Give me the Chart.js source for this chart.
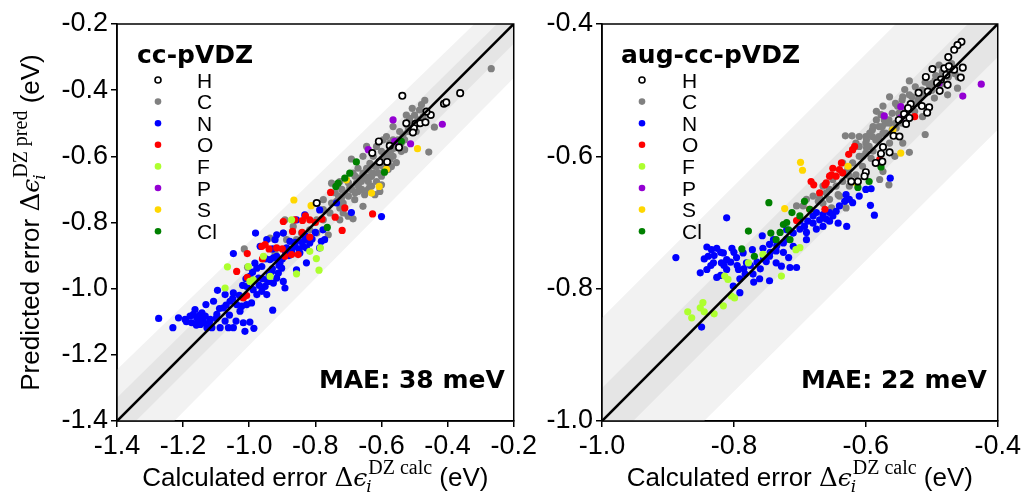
<!DOCTYPE html>
<html>
<head>
<meta charset="utf-8">
<script src="https://cdn.jsdelivr.net/npm/chart.js@4.4.1/dist/chart.umd.min.js"></script>
<style>
  body { margin: 0; background: #fff; width: 1024px; height: 494px; overflow: hidden; position: relative; }
  #chart-vdz { position: absolute; left: 0; top: 0; }
  #chart-aug { position: absolute; left: 540px; top: 0; }
</style>
</head>
<body>
<canvas id="chart-vdz" width="540" height="494" style="width:540px;height:494px"></canvas>
<canvas id="chart-aug" width="484" height="494" style="width:484px;height:494px"></canvas>
<script>
const ELEMENTS = ['H', 'C', 'N', 'O', 'F', 'P', 'S', 'Cl'];
const COLORS = { H: '#ffffff', C: '#808080', N: '#0000ff', O: '#ff0000', F: '#adff2f', P: '#9400d3', S: '#ffd700', Cl: '#008000' };

// ---- cc-pVDZ panel ----
const vdzRange = [-1.4, -0.2];
const vdzTicks = [-1.4, -1.2, -1.0, -0.8, -0.6, -0.4, -0.2];
const vdzBandX = [-1.4, -0.2];
const vdzLightHi = [-1.244, -0.085];
const vdzLightLo = [-1.575, -0.363];
const vdzDarkHi = [-1.33, -0.15];
const vdzDarkLo = [-1.457, -0.26];

const vdzH = [[-0.537,-0.417],[-0.362,-0.409],[-0.411,-0.441],[-0.404,-0.437],[-0.451,-0.475],[-0.464,-0.465],[-0.525,-0.500],[-0.497,-0.502],[-0.483,-0.500],[-0.467,-0.497],[-0.502,-0.515],[-0.505,-0.528],[-0.608,-0.555],[-0.575,-0.568],[-0.547,-0.573],[-0.628,-0.590],[-0.606,-0.617],[-0.583,-0.617],[-0.796,-0.741]];
const vdzC = [[-0.268,-0.335],[-0.469,-0.431],[-0.479,-0.444],[-0.507,-0.455],[-0.485,-0.460],[-0.440,-0.512],[-0.457,-0.587],[-0.530,-0.580],[-0.565,-0.510],
  [-0.525,-0.475],[-0.515,-0.485],[-0.500,-0.475],[-0.490,-0.490],[-0.474,-0.480],[-0.510,-0.510],[-0.495,-0.525],[-0.520,-0.525],[-0.535,-0.535],
  [-0.585,-0.540],[-0.595,-0.550],[-0.575,-0.560],[-0.560,-0.575],[-0.565,-0.600],[-0.555,-0.619],[-0.570,-0.631],[-0.585,-0.600],[-0.600,-0.585],
  [-0.615,-0.570],[-0.625,-0.600],[-0.635,-0.621],[-0.645,-0.636],[-0.656,-0.651],[-0.666,-0.666],[-0.676,-0.681],[-0.686,-0.651],[-0.691,-0.608],
  [-0.645,-0.570],[-0.656,-0.600],[-0.625,-0.651],[-0.615,-0.676],[-0.600,-0.686],[-0.635,-0.691],[-0.651,-0.716],[-0.671,-0.706],[-0.696,-0.696],
  [-0.711,-0.711],[-0.721,-0.726],[-0.736,-0.736],[-0.751,-0.681],[-0.726,-0.676],[-0.706,-0.671],[-0.681,-0.731],[-0.656,-0.751],[-0.686,-0.789],
  [-0.701,-0.781],[-0.726,-0.792],[-0.756,-0.771],[-0.776,-0.792],[-0.796,-0.792],[-0.817,-0.822],[-0.776,-0.731],[-0.615,-0.631],[-0.595,-0.631],
  [-0.575,-0.610],[-0.635,-0.661],[-0.661,-0.676],[-0.640,-0.676],[-0.620,-0.716],[-0.605,-0.706],[-0.545,-0.525],[-0.565,-0.550],[-0.555,-0.560],
  [-0.540,-0.585],[-0.671,-0.636],[-0.716,-0.741],[-0.761,-0.837],[-0.842,-0.832],[-0.857,-0.852],[-0.937,-0.847],[-0.897,-0.832],[-0.892,-0.792],
  [-1.015,-0.880],[-1.005,-0.935],[-0.867,-0.812],[-0.887,-0.852],[-0.922,-0.892],[-0.796,-0.832],[-0.776,-0.761],[-0.716,-0.771],[-0.751,-0.741],[-0.726,-0.756],
  [-0.700,-0.680],[-0.690,-0.700],[-0.680,-0.660],[-0.670,-0.690],[-0.660,-0.670],[-0.650,-0.660],[-0.640,-0.640],[-0.630,-0.660],[-0.620,-0.630],
  [-0.610,-0.650],[-0.600,-0.610],[-0.590,-0.600],[-0.580,-0.590],[-0.570,-0.580],[-0.550,-0.550],[-0.540,-0.560],[-0.530,-0.550],[-0.520,-0.510],
  [-0.510,-0.500],[-0.720,-0.700],[-0.730,-0.720],[-0.740,-0.710],[-0.700,-0.720],[-0.680,-0.710],[-0.660,-0.700],[-0.640,-0.700],[-0.630,-0.690],
  [-0.600,-0.660],[-0.580,-0.640]];
const vdzN = [[-1.274,-1.090],[-1.231,-1.118],[-1.214,-1.088],[-1.194,-1.093],[-1.179,-1.083],[-1.169,-1.078],[-1.159,-1.088],[-1.154,-1.098],
  [-1.148,-1.108],[-1.138,-1.103],[-1.143,-1.073],[-1.164,-1.063],[-1.128,-1.118],[-1.118,-1.093],[-1.098,-1.078],[-1.078,-1.058],[-1.174,-1.103],
  [-1.133,-1.083],[-1.131,-1.048],[-1.113,-1.118],[-1.088,-1.118],[-1.073,-1.098],[-1.063,-1.118],[-1.048,-1.118],[-1.040,-1.098],[-1.018,-1.103],
  [-1.013,-1.129],[-0.998,-1.101],[-0.986,-1.120],[-0.929,-1.065],[-1.096,-1.005],[-1.073,-1.018],[-1.048,-1.013],[-1.108,-1.038],[-1.058,-1.038],
  [-1.038,-1.048],[-1.023,-1.053],[-1.008,-1.048],[-0.993,-1.043],[-1.028,-1.068],[-1.008,-0.993],[-0.988,-1.003],[-0.977,-1.018],[-0.962,-1.008],
  [-0.947,-1.018],[-0.952,-0.993],[-0.942,-0.978],[-0.927,-0.983],[-0.917,-0.968],[-0.897,-0.978],[-0.892,-0.998],[-0.912,-0.953],[-0.932,-0.948],
  [-0.947,-0.973],[-0.972,-0.968],[-0.998,-0.963],[-0.983,-0.923],[-0.977,-0.938],[-0.962,-0.933],[-1.048,-0.894],[-0.981,-0.832],[-0.937,-0.912],
  [-0.927,-0.907],[-0.917,-0.902],[-0.907,-0.922],[-0.902,-0.938],[-0.922,-0.852],[-0.917,-0.837],[-0.887,-0.877],[-0.872,-0.887],[-0.862,-0.872],
  [-0.857,-0.943],[-0.847,-0.892],[-0.837,-0.872],[-0.827,-0.877],[-0.817,-0.862],[-0.832,-0.852],[-0.827,-0.922],[-0.832,-0.777],[-0.857,-0.792],
  [-0.787,-0.877],[-0.782,-0.857],[-0.772,-0.852],[-0.777,-0.822],[-0.787,-0.762],[-0.736,-0.741],[-0.691,-0.770],[-0.600,-0.782],[-0.967,-0.872],
  [-0.947,-0.852],[-0.897,-0.832],[-0.877,-0.857],
  [-1.160,-1.110],[-1.150,-1.080],[-1.140,-1.090],[-1.120,-1.100],[-1.100,-1.090],[-1.090,-1.060],[-1.070,-1.050],[-1.050,-1.030],[-1.030,-1.020],
  [-1.020,-0.990],[-0.970,-0.990],[-0.960,-0.970],[-0.940,-0.960],[-0.930,-0.940],[-0.910,-0.930],[-0.900,-0.910],[-0.890,-0.890],[-0.880,-0.900],
  [-0.860,-0.860],[-0.850,-0.880],[-0.840,-0.860],[-0.830,-0.840],[-0.810,-0.850],[-0.800,-0.830],[-0.930,-0.880],[-0.950,-0.910],[-0.990,-0.950],
  [-1.010,-0.970],[-1.060,-1.080],[-1.190,-1.100]];
const vdzO = [[-1.038,-0.948],[-1.006,-0.894],[-1.006,-0.966],[-0.962,-0.872],[-0.952,-0.867],[-0.917,-0.877],[-0.892,-0.902],[-0.872,-0.897],
  [-0.852,-0.897],[-0.862,-0.792],[-0.839,-0.794],[-0.817,-0.792],[-0.897,-0.797],[-0.754,-0.709],[-0.740,-0.784],[-0.719,-0.824],[-0.711,-0.756],
  [-0.627,-0.774],[-1.018,-1.028],[-1.008,-1.021],[-0.869,-0.827],[-0.817,-0.844],
  [-0.940,-0.880],[-0.900,-0.880],[-0.840,-0.830],[-0.800,-0.800],[-0.780,-0.790],[-0.960,-0.910],[-0.830,-0.780]];
const vdzF = [[-1.066,-0.934],[-1.073,-0.998],[-0.998,-0.978],[-0.988,-0.973],[-1.003,-0.933],[-0.937,-0.963],[-0.857,-0.955],[-0.797,-0.909],
  [-0.789,-0.944],[-0.785,-0.877],[-0.872,-0.792],[-0.957,-0.902],[-0.817,-0.887]];
const vdzP = [[-0.565,-0.490],[-0.416,-0.503],[-0.512,-0.562],[-0.640,-0.580],[-0.560,-0.555]];
const vdzS = [[-0.865,-0.732],[-0.813,-0.749],[-0.491,-0.577],[-0.585,-0.639],[-0.630,-0.711],[-0.607,-0.691],[-0.706,-0.671]];
const vdzCl = [[-0.676,-0.617],[-0.591,-0.648],[-0.540,-0.555],[-0.738,-0.691],[-0.731,-0.681],[-0.711,-0.666],[-0.764,-0.815],[-0.696,-0.651]];

// ---- aug-cc-pVDZ panel ----
const augRange = [-1.0, -0.4];
const augTicks = [-1.0, -0.8, -0.6, -0.4];
const augBandX = [-1.0, -0.4];
const augLightHi = [-0.844, -0.246];
const augLightLo = [-1.153, -0.56];
const augDarkHi = [-0.95, -0.355];
const augDarkLo = [-1.047, -0.45];

const augH = [[-0.455,-0.427],[-0.461,-0.432],[-0.466,-0.439],[-0.475,-0.450],[-0.499,-0.468],[-0.481,-0.467],[-0.474,-0.464],[-0.466,-0.469],
  [-0.453,-0.466],[-0.478,-0.477],[-0.486,-0.484],[-0.509,-0.480],[-0.456,-0.481],[-0.492,-0.489],[-0.476,-0.492],[-0.520,-0.504],[-0.506,-0.502],
  [-0.488,-0.501],[-0.532,-0.521],[-0.515,-0.524],[-0.504,-0.526],[-0.536,-0.527],[-0.507,-0.534],[-0.542,-0.536],[-0.534,-0.542],[-0.550,-0.545],
  [-0.539,-0.551],[-0.558,-0.569],[-0.549,-0.570],[-0.574,-0.586],[-0.564,-0.594],[-0.577,-0.596],[-0.585,-0.610],[-0.575,-0.608],[-0.600,-0.624],
  [-0.602,-0.630],[-0.612,-0.638],[-0.622,-0.638]];
const augC = [[-0.489,-0.462],[-0.510,-0.488],[-0.534,-0.486],[-0.461,-0.497],[-0.476,-0.507],[-0.496,-0.512],[-0.564,-0.510],[-0.574,-0.524],
  [-0.544,-0.510],[-0.534,-0.507],[-0.521,-0.515],[-0.510,-0.567],[-0.554,-0.557],[-0.564,-0.550],[-0.577,-0.537],[-0.584,-0.545],[-0.589,-0.555],
  [-0.594,-0.565],[-0.599,-0.575],[-0.610,-0.570],[-0.621,-0.569],[-0.631,-0.569],[-0.610,-0.585],[-0.599,-0.587],[-0.589,-0.592],[-0.605,-0.600],
  [-0.592,-0.603],[-0.584,-0.575],[-0.574,-0.565],[-0.544,-0.580],[-0.534,-0.594],[-0.556,-0.600],[-0.564,-0.580],[-0.579,-0.635],[-0.565,-0.643],
  [-0.574,-0.623],[-0.615,-0.628],[-0.625,-0.645],[-0.635,-0.638],[-0.642,-0.658],[-0.655,-0.665],[-0.665,-0.671],[-0.672,-0.668],[-0.695,-0.675],
  [-0.630,-0.678],[-0.652,-0.678],[-0.635,-0.610],[-0.627,-0.618],[-0.519,-0.510],[-0.541,-0.499],[-0.552,-0.524],[-0.526,-0.532],[-0.514,-0.540],
  [-0.584,-0.532],[-0.572,-0.545],[-0.504,-0.492],[-0.494,-0.478],[-0.484,-0.472],
  [-0.600,-0.570],[-0.590,-0.560],[-0.580,-0.555],[-0.570,-0.550],[-0.560,-0.535],[-0.555,-0.520],[-0.545,-0.515],[-0.530,-0.510],[-0.525,-0.495],
  [-0.515,-0.500],[-0.500,-0.490],[-0.490,-0.480],[-0.480,-0.470],[-0.470,-0.460],[-0.465,-0.475],[-0.570,-0.565],[-0.555,-0.550],[-0.545,-0.550],
  [-0.585,-0.575],[-0.595,-0.585],[-0.610,-0.600],[-0.620,-0.610],[-0.605,-0.615],[-0.630,-0.625],[-0.645,-0.645],[-0.660,-0.655],[-0.640,-0.660],[-0.670,-0.662],
  [-0.620,-0.590],[-0.615,-0.580],[-0.600,-0.580],[-0.590,-0.570],[-0.580,-0.570],[-0.575,-0.555],[-0.565,-0.545],[-0.560,-0.560],[-0.550,-0.535],
  [-0.540,-0.530],[-0.530,-0.520],[-0.520,-0.520],[-0.510,-0.505],[-0.500,-0.500],[-0.495,-0.485],[-0.485,-0.490],[-0.475,-0.480],[-0.470,-0.470],
  [-0.460,-0.480],[-0.650,-0.635],[-0.655,-0.650],[-0.665,-0.645],[-0.680,-0.660],[-0.690,-0.665],[-0.705,-0.675],[-0.635,-0.625],[-0.625,-0.630],[-0.600,-0.595]];
const augN = [[-0.888,-0.753],[-0.851,-0.776],[-0.841,-0.737],[-0.834,-0.741],[-0.826,-0.739],[-0.839,-0.751],[-0.831,-0.761],[-0.819,-0.761],
  [-0.811,-0.756],[-0.816,-0.746],[-0.841,-0.771],[-0.826,-0.783],[-0.811,-0.771],[-0.803,-0.739],[-0.796,-0.753],[-0.786,-0.746],[-0.781,-0.761],
  [-0.793,-0.771],[-0.791,-0.785],[-0.801,-0.796],[-0.791,-0.806],[-0.811,-0.693],[-0.849,-0.858],[-0.772,-0.741],[-0.756,-0.739],[-0.746,-0.733],
  [-0.746,-0.751],[-0.736,-0.761],[-0.728,-0.766],[-0.717,-0.753],[-0.715,-0.768],[-0.705,-0.768],[-0.746,-0.788],[-0.761,-0.785],[-0.771,-0.778],
  [-0.783,-0.778],[-0.757,-0.720],[-0.740,-0.726],[-0.725,-0.731],[-0.710,-0.736],[-0.720,-0.711],[-0.710,-0.716],[-0.700,-0.698],[-0.693,-0.706],
  [-0.688,-0.698],[-0.690,-0.726],[-0.680,-0.701],[-0.670,-0.696],[-0.665,-0.706],[-0.675,-0.685],[-0.665,-0.688],[-0.655,-0.685],[-0.645,-0.683],
  [-0.655,-0.698],[-0.642,-0.701],[-0.629,-0.706],[-0.632,-0.668],[-0.620,-0.670],[-0.630,-0.658],[-0.592,-0.649],[-0.593,-0.674],[-0.587,-0.689],
  [-0.563,-0.633],[-0.736,-0.743],[-0.751,-0.759],
  [-0.830,-0.750],[-0.820,-0.745],[-0.815,-0.765],[-0.805,-0.760],[-0.800,-0.745],[-0.795,-0.765],[-0.785,-0.770],[-0.775,-0.765],[-0.765,-0.760],
  [-0.755,-0.755],[-0.745,-0.745],[-0.735,-0.735],[-0.725,-0.745],[-0.720,-0.725],[-0.700,-0.710],[-0.690,-0.715],[-0.680,-0.690],[-0.675,-0.710],
  [-0.660,-0.695],[-0.650,-0.690],[-0.640,-0.675],[-0.625,-0.665],[-0.610,-0.660],[-0.600,-0.650],[-0.770,-0.790],[-0.760,-0.770],[-0.845,-0.755],
  [-0.835,-0.765],[-0.820,-0.780]];
const augO = [[-0.683,-0.638],[-0.679,-0.643],[-0.670,-0.655],[-0.662,-0.643],[-0.652,-0.628],[-0.650,-0.618],[-0.645,-0.630],[-0.637,-0.610],
  [-0.626,-0.597],[-0.617,-0.585],[-0.705,-0.697],[-0.685,-0.680],[-0.662,-0.680],[-0.526,-0.540],[-0.579,-0.605],
  [-0.660,-0.640],[-0.655,-0.630],[-0.640,-0.620],[-0.635,-0.625],[-0.620,-0.590]];
const augF = [[-0.870,-0.835],[-0.864,-0.844],[-0.851,-0.829],[-0.847,-0.821],[-0.845,-0.835],[-0.830,-0.838],[-0.816,-0.826],[-0.804,-0.811],
  [-0.799,-0.814],[-0.814,-0.781],[-0.809,-0.786],[-0.778,-0.761],[-0.756,-0.748],[-0.728,-0.781],[-0.700,-0.738],[-0.706,-0.741]];
const augP = [[-0.425,-0.491],[-0.453,-0.509],[-0.572,-0.539],[-0.547,-0.525],[-0.489,-0.489],[-0.547,-0.542]];
const augS = [[-0.699,-0.609],[-0.696,-0.621],[-0.723,-0.679],[-0.547,-0.595],[-0.627,-0.615],[-0.615,-0.640],[-0.559,-0.560]];
const augCl = [[-0.747,-0.670],[-0.778,-0.713],[-0.744,-0.716],[-0.736,-0.726],[-0.769,-0.751],[-0.788,-0.740],[-0.712,-0.685],[-0.693,-0.668],
  [-0.725,-0.703],[-0.717,-0.711],[-0.595,-0.638],[-0.577,-0.616],[-0.612,-0.647],[-0.715,-0.726],
  [-0.730,-0.715],[-0.720,-0.700],[-0.700,-0.690],[-0.685,-0.680]];

const TICK_FONT = { family: 'Liberation Sans', size: 27 };
const LIGHT_BAND = '#f2f2f2';
const DARK_BAND = '#e5e5e5';
const DOT = 3.6;

function pts(arr) {
  return arr.map(([x, y]) => ({ x, y }));
}

function edge(xs, ys) {
  return xs.map((x, i) => ({ x, y: ys[i] }));
}

function drawMath(ctx, label, sup, cx, baseY) {
  const reg = '26px "Liberation Sans"';
  const greek = '26px "DejaVu Serif"';
  const ital = 'italic 25px "DejaVu Serif"';
  const small = '20px "Liberation Serif"';
  const smallIt = 'italic 17px "DejaVu Serif"';
  const tail = ' (eV)';

  const w = (t, f) => { ctx.font = f; return ctx.measureText(t).width; };
  const wLabel = w(label, reg);
  const wD = w('Δ', greek);
  const wE = w('ϵ', ital);
  const wSub = w('i', smallIt);
  const wSup = w(sup, small);
  const wTail = w(tail, reg);
  const total = wLabel + wD + wE + 1 + Math.max(wSub, wSup) + wTail;

  let x = cx - total / 2;
  ctx.textAlign = 'left';
  ctx.textBaseline = 'alphabetic';
  ctx.fillStyle = '#000';
  ctx.font = reg; ctx.fillText(label, x, baseY); x += wLabel;
  ctx.font = greek; ctx.fillText('Δ', x, baseY); x += wD;
  ctx.font = ital; ctx.fillText('ϵ', x, baseY); x += wE + 1;
  ctx.font = smallIt; ctx.fillText('i', x - 2, baseY + 6);
  ctx.font = small; ctx.fillText(sup, x, baseY - 12);
  x += Math.max(wSub, wSup);
  ctx.font = reg; ctx.fillText(tail, x, baseY);
}

function overlay(cfg) {
  return {
    id: 'overlay',
    afterDraw(chart) {
      const { ctx, chartArea: a } = chart;
      ctx.save();

      ctx.strokeStyle = '#000';
      ctx.lineWidth = 1.5;
      ctx.strokeRect(a.left, a.top, a.right - a.left, a.bottom - a.top);

      ctx.fillStyle = '#000';
      ctx.textAlign = 'left';
      ctx.textBaseline = 'alphabetic';
      ctx.font = 'bold 25px "DejaVu Sans"';
      ctx.fillText(cfg.title, a.left + cfg.titleDx, 63);

      ELEMENTS.forEach((el, i) => {
        const y = 80 + i * 21.6;
        ctx.beginPath();
        ctx.arc(a.left + cfg.markDx, y, el === 'H' ? 3 : 3.3, 0, Math.PI * 2);
        ctx.fillStyle = COLORS[el];
        ctx.fill();
        if (el === 'H') {
          ctx.lineWidth = 1.6;
          ctx.strokeStyle = '#000';
          ctx.stroke();
        }
        ctx.fillStyle = '#000';
        ctx.font = '21px "Liberation Sans"';
        ctx.fillText(el, a.left + 80, y + 7.5);
      });

      ctx.font = 'bold 25px "DejaVu Sans"';
      ctx.textAlign = 'right';
      ctx.fillText(cfg.mae, a.right - cfg.maeDx, 388);

      drawMath(ctx, 'Calculated error ', 'DZ calc', (a.left + a.right) / 2, 486);

      if (cfg.yTitle) {
        ctx.translate(39, (a.top + a.bottom) / 2);
        ctx.rotate(-Math.PI / 2);
        drawMath(ctx, 'Predicted error ', 'DZ pred', 0, 0);
      }
      ctx.restore();
    }
  };
}

function axis(range, ticks, fit) {
  return {
    type: 'linear',
    min: range[0],
    max: range[1],
    afterBuildTicks: s => { s.ticks = ticks.map(v => ({ value: v })); },
    afterFit: fit,
    ticks: {
      font: TICK_FONT,
      color: '#000',
      padding: 3,
      maxRotation: 0,
      autoSkip: false,
      callback: v => v.toFixed(1)
    },
    grid: { drawOnChartArea: false, drawTicks: true, tickLength: 6, color: '#000', lineWidth: 1.5 },
    border: { display: true, color: '#000', width: 1.5 }
  };
}

function renderPanel(id, p) {
  const ctx = document.getElementById(id).getContext('2d');
  const series = [
    ['H', p.H], ['Cl', p.Cl], ['S', p.S], ['P', p.P], ['F', p.F], ['O', p.O], ['N', p.N], ['C', p.C]
  ];

  const datasets = [{
    type: 'line',
    data: edge(p.range, p.range),
    borderColor: '#000',
    borderWidth: 2.6,
    pointRadius: 0,
    fill: false
  }];

  series.forEach(([el, arr]) => {
    datasets.push({
      type: 'scatter',
      label: el,
      data: pts(arr),
      pointRadius: el === 'H' ? 3.2 : DOT,
      pointBackgroundColor: COLORS[el],
      pointBorderColor: el === 'H' ? '#000' : COLORS[el],
      pointBorderWidth: el === 'H' ? 1.7 : 0
    });
  });

  datasets.push(
    { type: 'line', data: edge(p.bandX, p.darkHi), borderWidth: 0, pointRadius: 0, backgroundColor: DARK_BAND, fill: '+1' },
    { type: 'line', data: edge(p.bandX, p.darkLo), borderWidth: 0, pointRadius: 0, fill: false },
    { type: 'line', data: edge(p.bandX, p.lightHi), borderWidth: 0, pointRadius: 0, backgroundColor: LIGHT_BAND, fill: '+1' },
    { type: 'line', data: edge(p.bandX, p.lightLo), borderWidth: 0, pointRadius: 0, fill: false }
  );

  return new Chart(ctx, {
    type: 'scatter',
    data: { datasets },
    options: {
      responsive: false,
      animation: false,
      events: [],
      devicePixelRatio: 1,
      layout: { padding: { top: 24, right: p.padRight, left: 0, bottom: 0 } },
      plugins: { legend: { display: false }, tooltip: { enabled: false } },
      scales: {
        x: axis(p.range, p.ticks, s => { s.height = 73; }),
        y: axis(p.range, p.ticks, s => { s.width = p.yWidth; })
      }
    },
    plugins: [overlay(p.overlay)]
  });
}

renderPanel('chart-vdz', {
  range: vdzRange, ticks: vdzTicks, bandX: vdzBandX,
  lightHi: vdzLightHi, lightLo: vdzLightLo, darkHi: vdzDarkHi, darkLo: vdzDarkLo,
  H: vdzH, C: vdzC, N: vdzN, O: vdzO, F: vdzF, P: vdzP, S: vdzS, Cl: vdzCl,
  padRight: 26, yWidth: 117,
  overlay: { title: 'cc-pVDZ', titleDx: 20, markDx: 41, mae: 'MAE: 38 meV', maeDx: 9, yTitle: true }
});

renderPanel('chart-aug', {
  range: augRange, ticks: augTicks, bandX: augBandX,
  lightHi: augLightHi, lightLo: augLightLo, darkHi: augDarkHi, darkLo: augDarkLo,
  H: augH, C: augC, N: augN, O: augO, F: augF, P: augP, S: augS, Cl: augCl,
  padRight: 25, yWidth: 62,
  overlay: { title: 'aug-cc-pVDZ', titleDx: 19, markDx: 40, mae: 'MAE: 22 meV', maeDx: 11, yTitle: false }
});
</script>
</body>
</html>
